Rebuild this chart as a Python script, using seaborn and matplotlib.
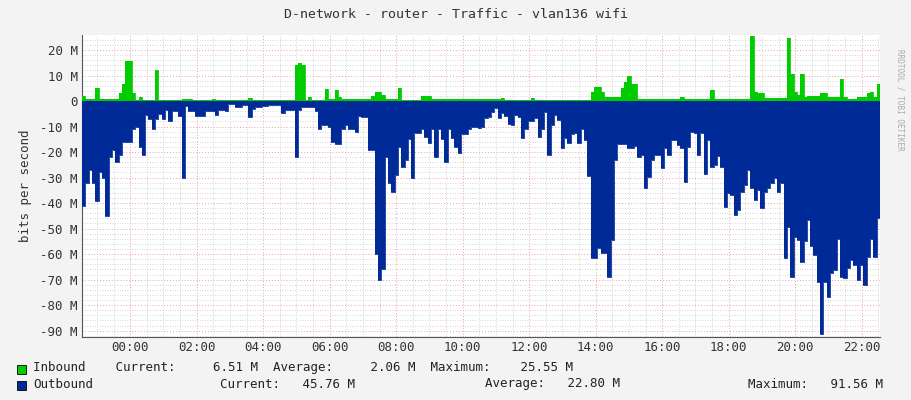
import numpy as np
import matplotlib
matplotlib.use("Agg")
import matplotlib.pyplot as plt
import seaborn as sns

# 6-minute samples starting 22:33 previous day (hours relative to 00:00)
start_hour = -1.45
step_h = 0.1

inbound_a = [
2.0,1,1,1,5,0.8,0.8,0.8,0.8,0.8,
0.8,3,6.7,15.7,15.7,3,0.4,1.7,0.4,0.4,
0.4,0.4,12,0.4,0.4,0.4,0.4,0.4,0.4,0.4,
0.8,0.8,0.8,0.4,0.4,0.4,0.4,0.4,0.4,0.8,
0.4,0.4,0.4,0.4,0.4,0.4,0.4,0.4,0.4,0.4,
1.2,0.4,0.4,0.4,0.4,0.4,0.4,0.4,0.4,0.4,
0.4,0.4,0.4,0.4,14,14.8,14,0.4,1.7,0.6,
0.6,0.6,0.6,4.6,0.8,0.8,4.3,1.7,0.8,0.8,
0.8,0.8,0.8,0.8,0.8,0.8,0.8,2,3.7,3.7,
2.3,0.8,0.8,0.8,0.8,5,0.5,0.5,0.5,0.5,
0.5,0.5,2,2,2,0.8,0.8,0.8,0.8,0.8,
0.8,0.8,0.8,0.8,0.8,0.8,0.8,0.8,0.8,0.8]
inbound_b = [
0.8,0.8,0.8,0.8,0.8,0.8,1.3,0.6,0.6,0.6,
0.6,0.6,0.6,0.6,0.6,1.3,0.6,0.6,0.6,0.6,
0.6,0.6,0.6,0.6,0.6,0.6,0.6,0.6,0.6,0.6,
0.6,0.6,0.6,3.7,5.4,5.4,3.7,1.7,1.7,1.7,
1.7,1.7,5,7.6,9.8,6.7,6.7,1,0.8,0.8,
0.8,0.8,0.8,0.8,0.8,0.8,0.8,0.8,0.8,0.8,
1.4,0.8,0.8,0.8,0.8,0.8,0.8,0.8,0.8,4.3,
1,1,1,1,1,1,1,1,1,1,
1,25.5,3.7,3,3,1.3,1.3,1.3,1.3,1.3,
1.3,1.3,24.6,10.8,3.7,2.3,10.8,1.7,2,2,
2,2,3,3,1.4,1.4,1.4,1.4,8.5,1.4,
1,1,1,1.7,1.7,1.7,3,3.7,1.7,6.5]

outbound_a = [
41,32,27,32,39,28,30,45,22,19,
24,21,16,16,16,11,10,18,21,5.5,
7,11,7,5,7,3.5,8,4,4,6,
30,2,4,4,6,6,6,4,4,4,
5.5,3.5,3.5,4,1.2,1.2,2.5,2.5,1.5,1.5,
6.4,3,2.5,2.5,2,2,1.5,1.5,1.5,1.5,
4.5,3.5,3.5,3.5,22,3.5,2.5,2.5,2.5,2.5,
4,11,9.4,9.4,10,16,17,17,11,9.4,
11,11,12,6,6.4,6.4,19,19,60,70,
66,22,32,35.5,29,18,26,23,15,30,
12.7,12.7,11,14,16.6,11,22,11,15,24,
11,14.6,18,20.5,13,13,11,10,10,10.7]
outbound_b = [
10,6.8,6.4,4.2,2.9,6.8,4.8,5.9,8.8,9.4,
5.5,6.4,14.6,11,7.7,8,6.8,14,11,4.2,
21,9.4,5.5,7.5,18.5,14.6,16.6,13,12.7,16.3,
11,15.3,29.4,61.7,61.7,57.8,59.7,59.7,69,54.5,
23,16.9,16.9,16.9,18.5,18.5,17.6,21.8,21,33.9,
29.7,23,21,21,26.4,18.5,21,15.3,15.3,17.3,
18.5,31.6,17.9,12,12.7,21,12.7,28.4,15.3,25.8,
25,21.6,25.8,41.4,36.2,36.9,44.7,42.7,35.6,33,
27,34.2,38.8,34.9,42,35.6,34.2,32.3,30.3,35.6,
32.3,61.7,49.3,69,53.2,54.5,63,55,46.7,57,
60.4,71,91.5,71,76.7,67.6,66.3,53.9,69,69.5,
65.6,62.4,64.3,70.2,64.3,72.2,61,53.9,61,45.8]

tick_hours = list(range(0, 23, 2))
tick_labels = ["%02d:00" % h for h in tick_hours]
y_ticks = list(range(-90, 21, 10))
y_labels = ["%d M" % v if v != 0 else "0" for v in y_ticks]

inbound = np.array(inbound_a + inbound_b)
outbound = np.array(outbound_a + outbound_b)
n = len(inbound)
t = start_hour + step_h * np.arange(n + 1)
inb = np.append(inbound, inbound[-1])
outb = -np.append(outbound, outbound[-1])

sns.set_style("white")
plt.rcParams['font.family'] = ['DejaVu Sans Mono', 'DejaVu Sans']

fig = plt.figure(figsize=(9.11, 4.0), dpi=100, facecolor="#f3f3f3")
ax = fig.add_axes([82/911, 1-337/400, (880-82)/911, (337-35)/400])
ax.set_facecolor("white")

GREEN = "#00cc00"
BLUE = "#002a97"
ax.fill_between(t, 0, inb, step="post", color=GREEN, linewidth=0, zorder=3)
ax.fill_between(t, 0, outb, step="post", color=BLUE, linewidth=0, zorder=3)
sns.lineplot(x=t, y=inb, drawstyle="steps-post", color=GREEN, linewidth=0.6, ax=ax, zorder=4)
sns.lineplot(x=t, y=outb, drawstyle="steps-post", color=BLUE, linewidth=0.6, ax=ax, zorder=4)

ax.set_xlim(t[0], t[-1])
ax.set_ylim(-92.5, 25.9)
ax.set_xticks(tick_hours)
ax.set_xticklabels(tick_labels, fontsize=9, color="#333333")
ax.set_xticks(np.arange(-1.0, 22.6, 0.5), minor=True)
ax.set_yticks(y_ticks)
ax.set_yticklabels(y_labels, fontsize=9, color="#333333")
ax.set_yticks(np.arange(-92, 26, 2), minor=True)
ax.grid(True, which="minor", color="#c8c8c8", linestyle=(0, (1, 2)), linewidth=0.6, zorder=0)
ax.grid(True, which="major", color="#f0a0a0", linestyle=(0, (1, 2)), linewidth=0.7, zorder=1)
ax.set_axisbelow(True)
ax.tick_params(axis="both", which="both", length=0, pad=3)
for s in ["top", "right"]:
    ax.spines[s].set_visible(False)
for s in ["left", "bottom"]:
    ax.spines[s].set_color("#555555")
    ax.spines[s].set_linewidth(0.8)
ax.set_ylabel("bits per second", fontsize=9, color="#333333", labelpad=6)

fig.text(0.5, 1-15/400, "D-network - router - Traffic - vlan136 wifi", ha="center", va="center",
         fontsize=9.5, color="#333333")
fig.text(900/911, 0.75, "RRDTOOL / TOBI OETIKER", rotation=270, ha="center", va="center",
         fontsize=5.5, color="#aaaaaa")

fig.patches.append(plt.Rectangle((17/911, 1-374/400), 9/911, 9/400, transform=fig.transFigure,
                                 facecolor=GREEN, edgecolor="black", linewidth=0.6))
fig.patches.append(plt.Rectangle((17/911, 1-390/400), 9/911, 9/400, transform=fig.transFigure,
                                 facecolor=BLUE, edgecolor="black", linewidth=0.6))
fs = 9
fig.text(33/911, 1-368/400, "Inbound    Current:     6.51 M  Average:     2.06 M  Maximum:    25.55 M",
         fontsize=fs, va="center", color="#222222")
fig.text(33/911, 1-384/400, "Outbound", fontsize=fs, va="center", color="#222222")
fig.text(220/911, 1-384/400, "Current:   45.76 M", fontsize=fs, va="center", color="#222222")
fig.text(485/911, 1-384/400, "Average:   22.80 M", fontsize=fs, va="center", color="#222222")
fig.text(748/911, 1-384/400, "Maximum:   91.56 M", fontsize=fs, va="center", color="#222222")

fig.savefig("out.png", dpi=100, facecolor=fig.get_facecolor())
